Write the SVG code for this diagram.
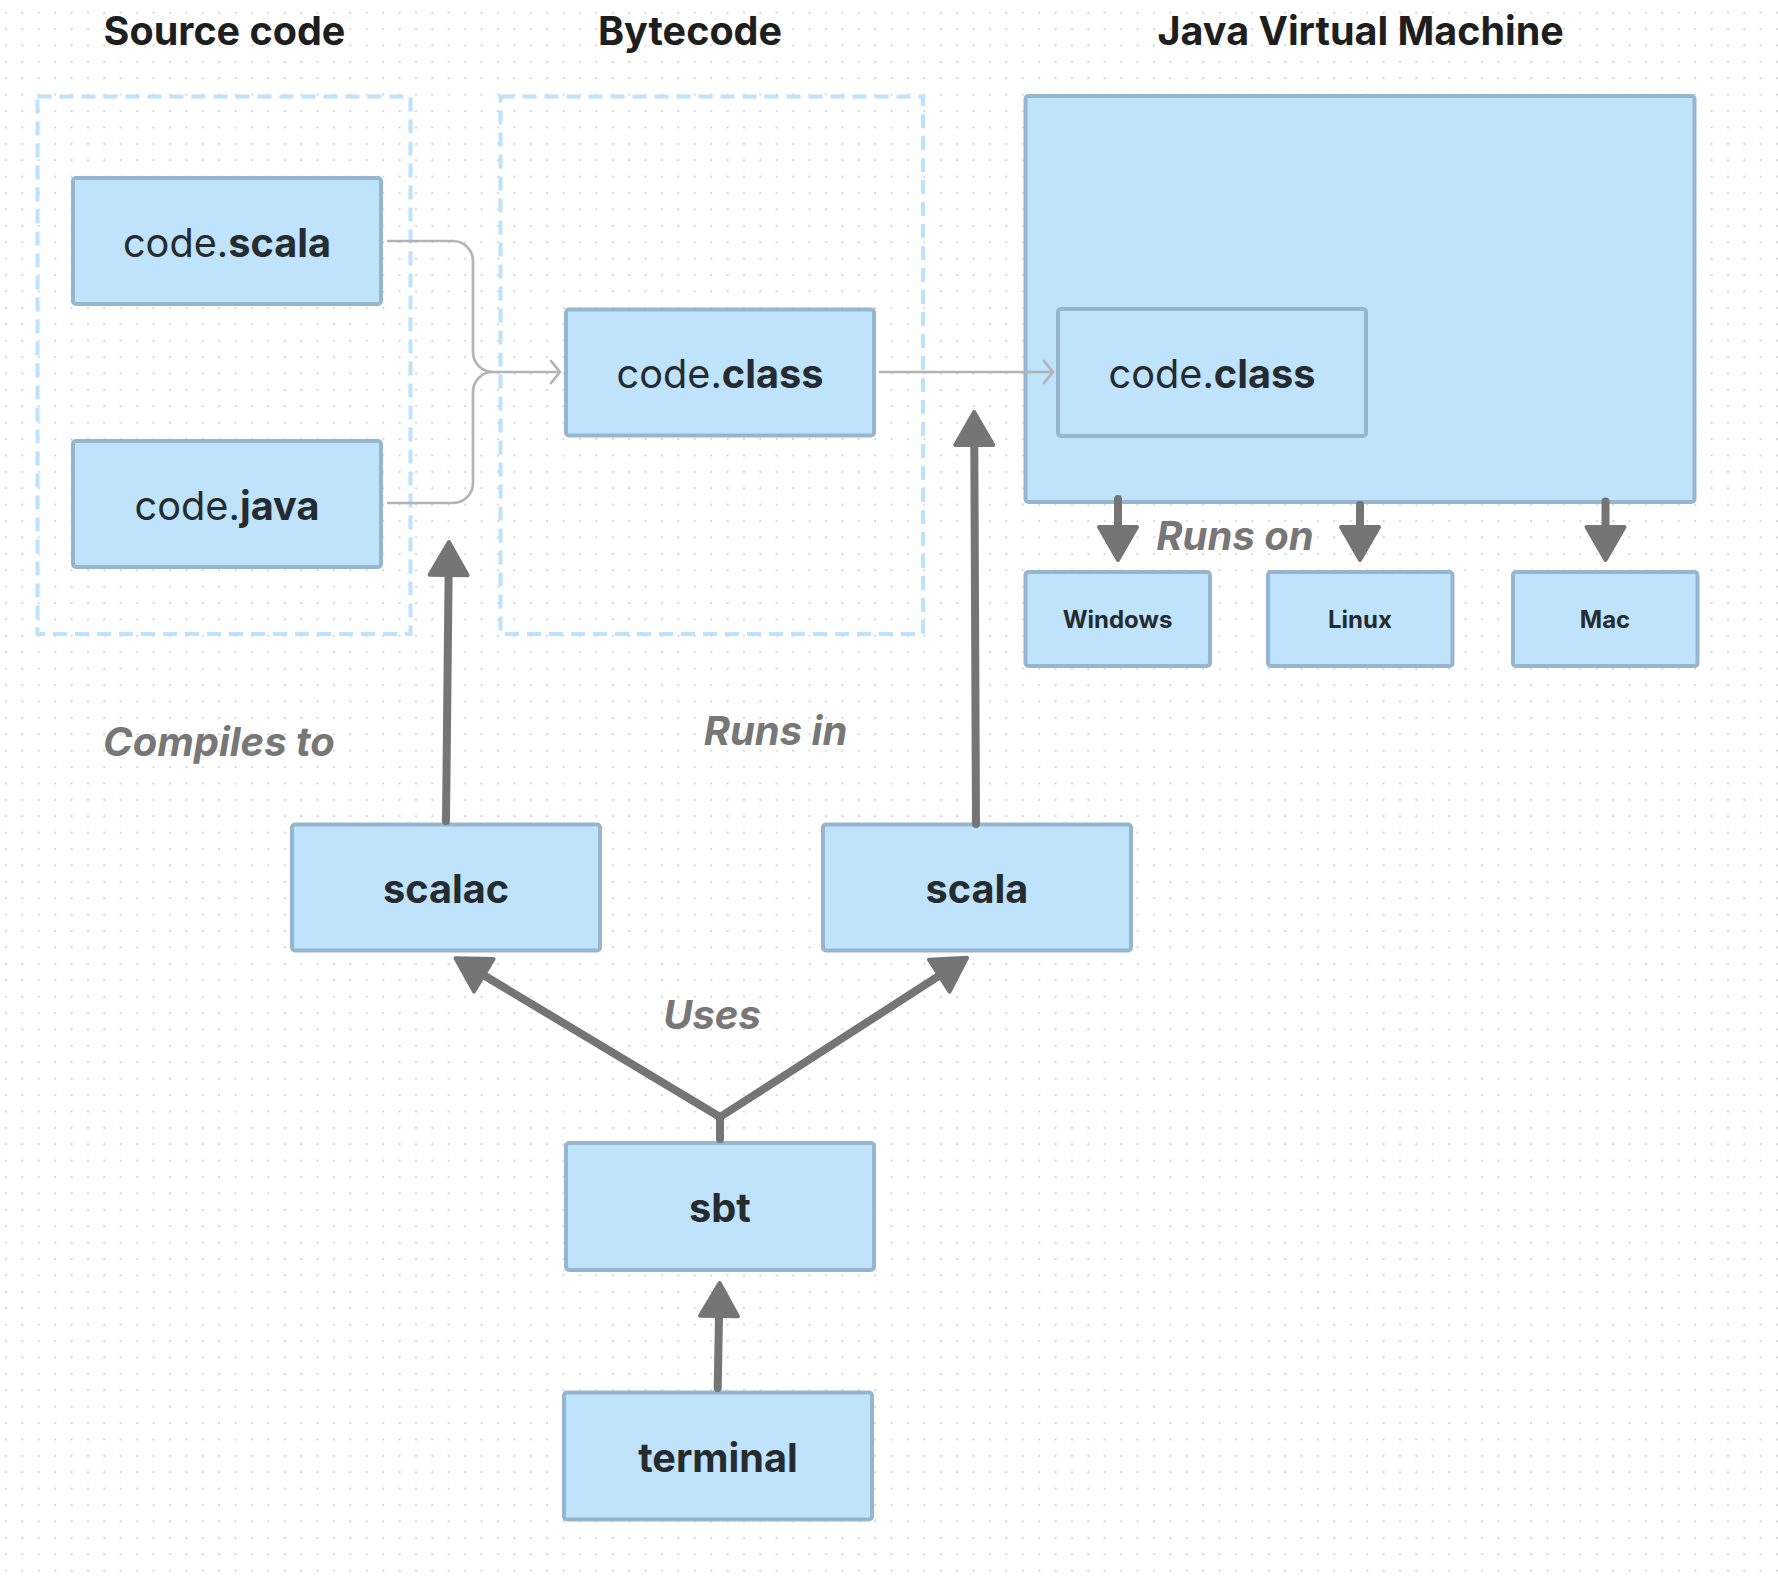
<svg xmlns="http://www.w3.org/2000/svg" width="1778" height="1576" viewBox="0 0 1778 1576">
<style>
.node{fill:#bee3fb;stroke:#96b6cf;stroke-width:4}
.group{fill:none;stroke:#bde2fb;stroke-width:4;stroke-dasharray:14 8}
.title{font-family:Inter,"Liberation Sans",sans-serif;font-size:39.5px;font-weight:700;fill:#1e1e1e;text-anchor:middle}
.lbl{font-family:Inter,"Liberation Sans",sans-serif;font-size:39.7px;fill:#262b30;text-anchor:middle}
.small{font-family:Inter,"Liberation Sans",sans-serif;font-size:24px;font-weight:700;fill:#262b30;text-anchor:middle}
.edge{font-family:Inter,"Liberation Sans",sans-serif;font-size:40px;font-weight:700;font-style:italic;fill:#777777;text-anchor:middle}
.b{font-weight:700}
.r{font-weight:400}
.thick{fill:none;stroke:#757575;stroke-width:8;stroke-linecap:round;stroke-linejoin:round}
.thin{fill:none;stroke:#b3b3b3;stroke-width:2.7}
</style>
<defs>
<pattern id="dots" patternUnits="userSpaceOnUse" width="16.4" height="16.4">
<circle cx="6" cy="12.7" r="1.1" fill="#d2d2d2"/>
</pattern>
<marker id="head" markerUnits="userSpaceOnUse" markerWidth="60" markerHeight="60" refX="0" refY="0" viewBox="-5 -30 50 60" orient="auto" overflow="visible">
<path d="M0,-19 L33,0 L0,19 Z" fill="#757575" stroke="#757575" stroke-width="4" stroke-linejoin="round"/>
</marker>
<marker id="chev" markerUnits="userSpaceOnUse" markerWidth="30" markerHeight="30" refX="0" refY="0" viewBox="-15 -15 30 30" orient="auto" overflow="visible">
<path d="M-9,-11 L0,0 L-9,11" fill="none" stroke="#b3b3b3" stroke-width="2.7" stroke-linecap="round" stroke-linejoin="round"/>
</marker>
</defs>
<rect width="1778" height="1576" fill="#ffffff"/>
<rect width="1778" height="1576" fill="url(#dots)"/>

<g id="titles">
<text class="title" x="224.5" y="45">Source code</text>
<text class="title" x="690" y="45">Bytecode</text>
<text class="title" x="1360.7" y="45">Java Virtual Machine</text>
</g>

<g id="source-code-group"><rect class="group" x="37.5" y="96.5" width="373" height="537.5"/></g>
<g id="bytecode-group"><rect class="group" x="500.5" y="96.5" width="422.5" height="537.5"/></g>

<g id="jvm"><rect class="node" x="1025.5" y="96" width="669" height="406" rx="3"/></g>

<g id="code-scala"><rect class="node" x="73" y="178" width="308" height="126" rx="3"/><text class="lbl" x="227" y="256.5"><tspan class="r">code.</tspan><tspan class="b">scala</tspan></text></g>
<g id="code-java"><rect class="node" x="73" y="441" width="308" height="126" rx="3"/><text class="lbl" x="227" y="519.5"><tspan class="r">code.</tspan><tspan class="b">java</tspan></text></g>
<g id="code-class"><rect class="node" x="566" y="309.5" width="308" height="126" rx="3"/><text class="lbl" x="720" y="388"><tspan class="r">code.</tspan><tspan class="b">class</tspan></text></g>
<g id="jvm-code-class"><rect class="node" x="1058" y="309" width="308" height="127" rx="3"/><text class="lbl" x="1212" y="388"><tspan class="r">code.</tspan><tspan class="b">class</tspan></text></g>
<g id="windows"><rect class="node" x="1025.5" y="572" width="184.5" height="94" rx="3"/><text class="small" x="1117.5" y="628">Windows</text></g>
<g id="linux"><rect class="node" x="1268" y="572" width="184.5" height="94" rx="3"/><text class="small" x="1360" y="628">Linux</text></g>
<g id="mac"><rect class="node" x="1513" y="572" width="184.5" height="94" rx="3"/><text class="small" x="1605" y="628">Mac</text></g>
<g id="scalac"><rect class="node" x="292" y="824.5" width="308" height="126" rx="3"/><text class="lbl b" x="446" y="903">scalac</text></g>
<g id="scala"><rect class="node" x="823" y="824.5" width="308" height="126" rx="3"/><text class="lbl b" x="977" y="903">scala</text></g>
<g id="sbt"><rect class="node" x="566" y="1143" width="308" height="127" rx="3"/><text class="lbl b" x="720" y="1222">sbt</text></g>
<g id="terminal"><rect class="node" x="564" y="1392.5" width="308" height="127" rx="3"/><text class="lbl b" x="718" y="1471.5">terminal</text></g>

<g id="connectors">
<path class="thin" d="M387,241 H453 A20,20 0 0 1 473,261 V352 A20,20 0 0 0 493,372 H560" marker-end="url(#chev)"/>
<path class="thin" d="M387,503 H453 A20,20 0 0 0 473,483 V392 A20,20 0 0 1 493,372"/>
<path class="thin" d="M879,372 H1053" marker-end="url(#chev)"/>
<path class="thick" d="M446,821 L448.6,575" marker-end="url(#head)"/>
<path class="thick" d="M976,824 L974.3,445" marker-end="url(#head)"/>
<path class="thick" d="M720,1139 L720,1117 L483.8,975.3" marker-end="url(#head)"/>
<path class="thick" d="M720,1117 L939.3,975.7" marker-end="url(#head)"/>
<path class="thick" d="M717.7,1388 L719,1316" marker-end="url(#head)"/>
<path class="thick" d="M1118,499 L1118,527" marker-end="url(#head)"/>
<path class="thick" d="M1360,505 L1360,527" marker-end="url(#head)"/>
<path class="thick" d="M1605.5,501.5 L1605.5,527" marker-end="url(#head)"/>
</g>

<g id="edge-labels">
<text class="edge" x="219" y="756">Compiles to</text>
<text class="edge" x="775.5" y="745">Runs in</text>
<text class="edge" x="712" y="1029">Uses</text>
<text class="edge" x="1235" y="550">Runs on</text>
</g>
</svg>
